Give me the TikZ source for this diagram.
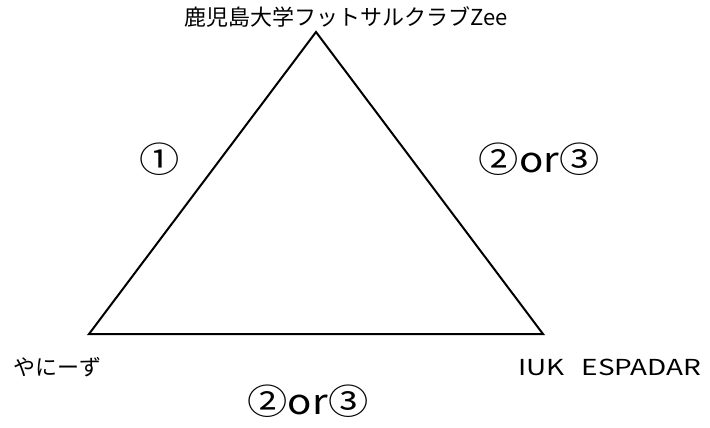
\documentclass[tikz,border=0pt]{standalone}
\usepackage{fontspec}
\setmainfont{Noto Sans CJK JP}
\usepackage{tikz}

\begin{document}
\begin{tikzpicture}[x=1pt,y=-1pt,
		team/.style={inner sep=0pt,font=\fontsize{22}{22}\selectfont},
		match/.style={inner sep=0pt,transform shape,xscale=1.15,font=\fontsize{35}{35}\selectfont},
		edge/.style={line width=2pt,line join=miter}]
		\useasboundingbox (0,0) rectangle (710,428);
		\coordinate (top) at (316,32);
		\coordinate (left) at (89,334);
		\coordinate (right) at (543,334);
		\node[team] (kagoshima) at (346,17) {鹿児島大学フットサルクラブZee};
		\node[team] (yaniizu) at (57,367) {やにーず};
		\node[team,transform shape,xscale=1.27] (iuk) at (610,367) {IUK\hspace{0.6em}ESPADAR};
		\node[match] (first) at (160,159) {①};
		\node[match] (secright) at (539,159) {②or③};
		\node[match] (secbottom) at (308,401) {②or③};
		\draw[edge] (top) -- (right) -- (left) -- cycle;
		\end{tikzpicture}
\end{document}
